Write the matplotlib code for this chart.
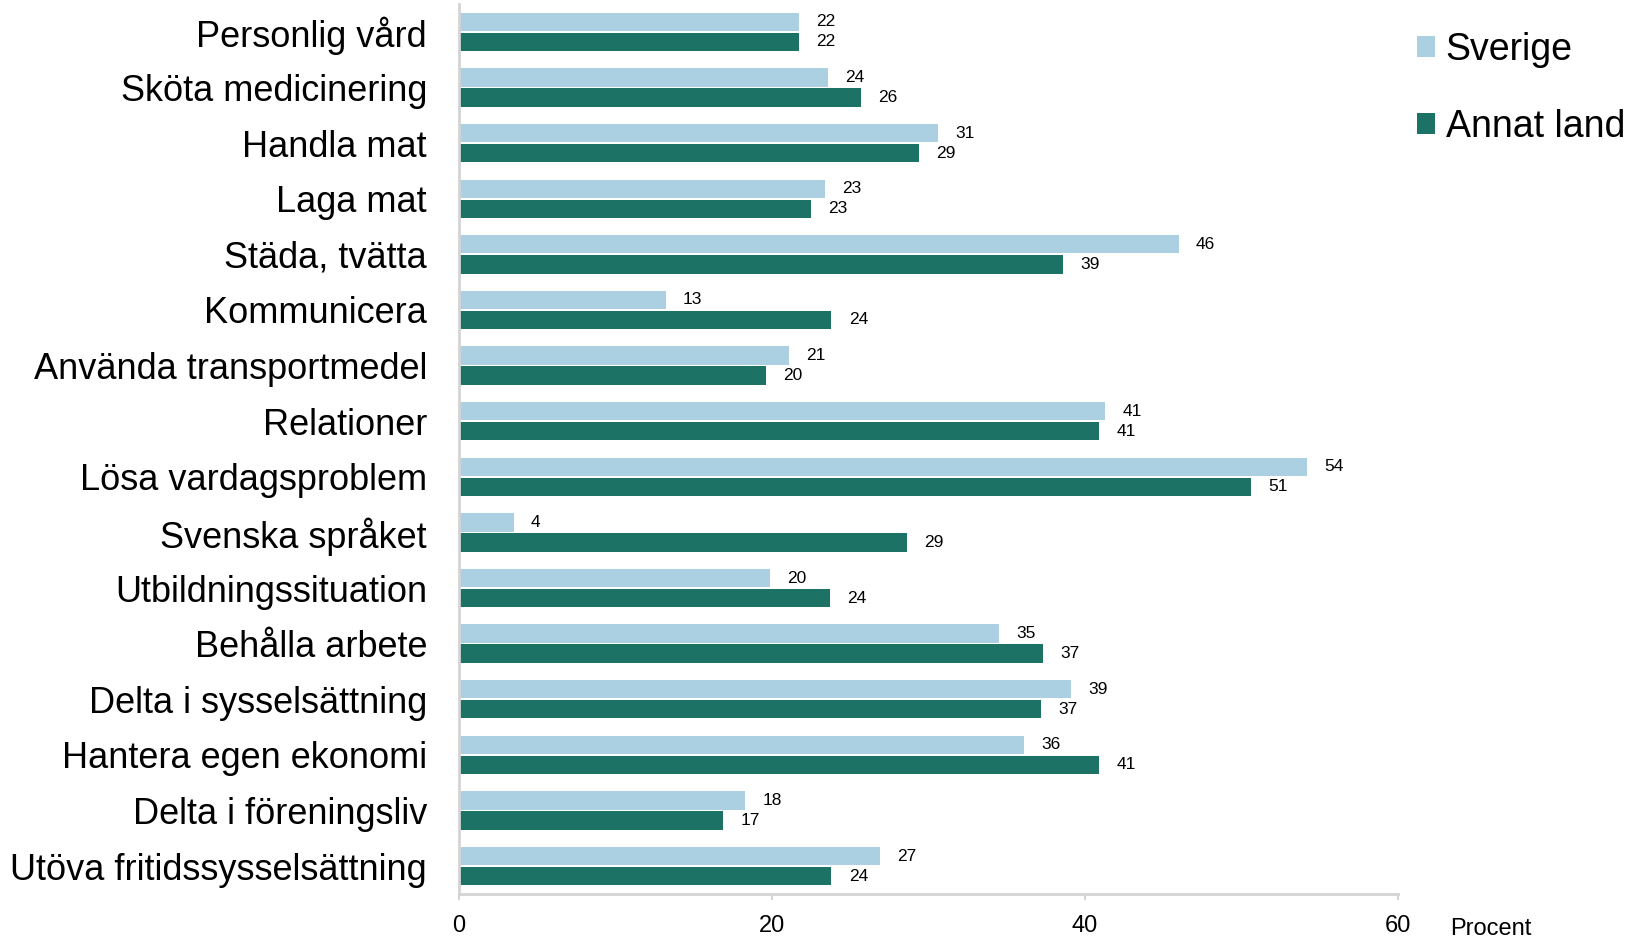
import numpy as np
import matplotlib
matplotlib.use("Agg")
import matplotlib.pyplot as plt

# kategorier uppifrån och ned
categories = ["Personlig vård", "Sköta medicinering", "Handla mat", "Laga mat",
              "Städa, tvätta", "Kommunicera", "Använda transportmedel", "Relationer",
              "Lösa vardagsproblem", "Svenska språket", "Utbildningssituation",
              "Behålla arbete", "Delta i sysselsättning", "Hantera egen ekonomi",
              "Delta i föreningsliv", "Utöva fritidssysselsättning"]
sverige = [21.7, 23.6, 30.6, 23.4, 46.0, 13.2, 21.1, 41.3, 54.2, 3.5, 19.9, 34.5, 39.1, 36.1, 18.3, 26.9]
annat_land = [21.7, 25.7, 29.4, 22.5, 38.6, 23.8, 19.6, 40.9, 50.6, 28.6, 23.7, 37.3, 37.2, 40.9, 16.9, 23.8]
sverige_labels = [22, 24, 31, 23, 46, 13, 21, 41, 54, 4, 20, 35, 39, 36, 18, 27]
annat_labels = [22, 26, 29, 23, 39, 24, 20, 41, 51, 29, 24, 37, 37, 41, 17, 24]
xticks = [0, 20, 40, 60]

plt.rcParams['font.family'] = ['Liberation Sans', 'DejaVu Sans']

c_sve = "#abd0e1"
c_ann = "#1b7265"
grey = "#d4d4d4"

fig = plt.figure(figsize=(16.3, 9.41), dpi=100, facecolor="white")
ax = fig.add_axes([0.2816, 0.05, 0.576, 0.9457])

y = np.arange(len(categories))
h = 0.33
ax.barh(y - 0.18, sverige, height=h, color=c_sve, label="Sverige")
ax.barh(y + 0.18, annat_land, height=h, color=c_ann, label="Annat land")

for i in range(len(categories)):
    ax.text(sverige[i] + 1.1, y[i] - 0.18, str(sverige_labels[i]), va="center", ha="left", fontsize=12.5)
    ax.text(annat_land[i] + 1.1, y[i] + 0.18, str(annat_labels[i]), va="center", ha="left", fontsize=12.5)

ax.set_ylim(len(categories) - 0.5, -0.5)
ax.set_xlim(0, 60)
ax.set_yticks(y)
ax.set_yticklabels(categories, fontsize=26)
ax.tick_params(axis="y", length=0, pad=23)
ax.set_xticks(xticks)
ax.set_xticklabels([str(t) for t in xticks], fontsize=17)
ax.tick_params(axis="x", length=4.5, width=1.5, color=grey, pad=11)

for s in ["top", "right"]:
    ax.spines[s].set_visible(False)
ax.spines["left"].set_color(grey)
ax.spines["bottom"].set_color(grey)
ax.spines["left"].set_linewidth(2)
ax.spines["bottom"].set_linewidth(2)

fig.text(1450 / 1630, 1 - 929 / 941, "Procent", fontsize=17, va="center", ha="left")

leg = fig.legend(loc="upper left", bbox_to_anchor=(1417 / 1630, 1 - 32 / 941), frameon=False,
                 fontsize=27, handlelength=0.48, handleheight=0.48, handletextpad=0.28,
                 labelspacing=1.09, borderaxespad=0, borderpad=0)

fig.savefig("out.png", dpi=100, facecolor="white")
